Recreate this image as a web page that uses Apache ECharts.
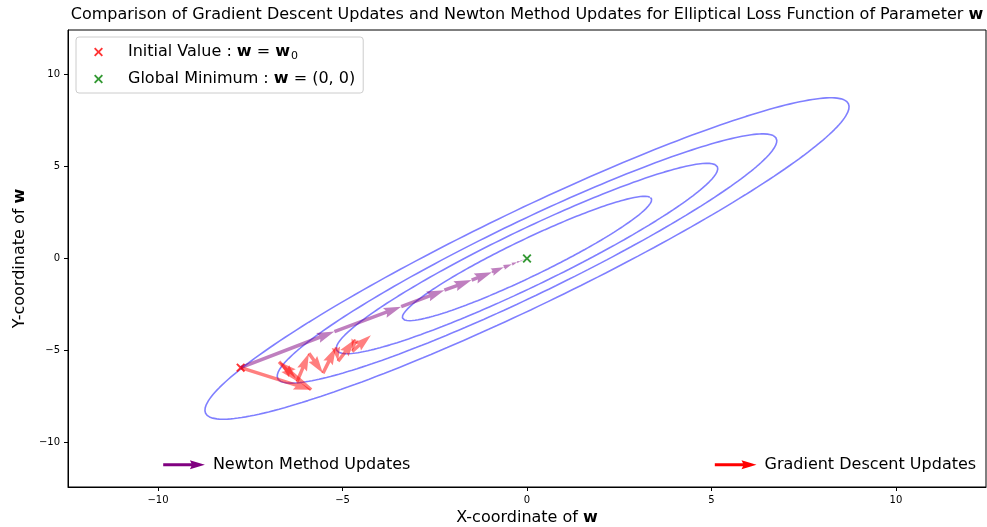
<!DOCTYPE html>
<html>
<head>
<meta charset="utf-8">
<script src="https://cdn.jsdelivr.net/npm/echarts@6/dist/echarts.min.js"></script>
<style>
html, body { margin: 0; padding: 0; background: #fff; }
#chart { width: 987px; height: 527px; }
</style>
</head>
<body>
<div id="chart"></div>
<script>
const xTicks = [-10, -5, 0, 5, 10];
const yTicks = [-10, -5, 0, 5, 10];

const initialValue = [-7.76, -5.93];
const globalMinimum = [0, 0];

// gradient descent iterates
const gdX = [-7.76, -5.85, -6.72, -6.23, -5.91, -5.53, -5.18, -5.12, -4.66, -4.74, -4.23];
const gdY = [-5.93, -7.13, -5.61, -6.67, -5.15, -6.23, -4.82, -5.58, -4.39, -5.04, -4.17];

// newton iterates
const newtonX = [-7.76, -5.22, -3.41, -2.24, -1.50, -0.95, -0.63, -0.41, -0.27, -0.18, -0.12, -0.08, -0.05, -0.03];
const newtonY = [-5.93, -3.97, -2.62, -1.72, -1.17, -0.74, -0.48, -0.31, -0.21, -0.14, -0.09, -0.06, -0.04, -0.02];

// loss contours (semi axes in data units, major axis at 45 deg)
const contourSemiMajor = [4.71, 7.21, 9.44, 12.17];
const contourSemiMinor = [0.80, 1.22, 1.60, 2.07];
const contourAngle = 45;

const keyNames = ['Newton Method Updates', 'Gradient Descent Updates'];
const keyColors = ['#800080', '#ff0000'];
const keyX = [-9.86, 5.09];
const keyY = [-11.2, -11.2];
const keyLength = [1.13, 1.13];

const FONT = 'DejaVu Sans';
const ARROW_W = 3.5;
const xMark = 'path://M0,1.5L1.5,0L5,3.5L8.5,0L10,1.5L6.5,5L10,8.5L8.5,10L5,6.5L1.5,10L0,8.5L3.5,5Z';

function ellipse(a, b) {
    const th = contourAngle * Math.PI / 180;
    const pts = [];
    for (let i = 0; i <= 240; i++) {
        const t = i / 240 * Math.PI * 2;
        const u = a * Math.cos(t), v = b * Math.sin(t);
        pts.push([u * Math.cos(th) - v * Math.sin(th), u * Math.sin(th) + v * Math.cos(th)]);
    }
    return pts;
}

function steps(xs, ys) {
    const out = [];
    for (let i = 0; i < xs.length - 1; i++) out.push([xs[i], ys[i], xs[i + 1], ys[i + 1]]);
    return out;
}

// quiver style arrow polygon, sizes in shaft widths
function arrowPoints(p0, p1, w) {
    const dx = p1[0] - p0[0], dy = p1[1] - p0[1];
    const lpx = Math.hypot(dx, dy);
    if (lpx === 0) return [p0, p0, p0];
    const L = lpx / w;
    const ux = dx / lpx, uy = dy / lpx, vx = -uy, vy = ux;
    const minsh = 5;
    let pts;
    if (L >= minsh) {
        pts = [[0, 0.5], [L - 4.5, 0.5], [L - 5, 1.5], [L, 0], [L - 5, -1.5], [L - 4.5, -0.5], [0, -0.5]];
    } else {
        const s = L / minsh;
        pts = [[0, 0.5], [0.5, 0.5], [0, 1.5], [5, 0], [0, -1.5], [0.5, -0.5], [0, -0.5]]
            .map(p => [p[0] * s, p[1] * s]);
    }
    return pts.map(p => [p0[0] + (p[0] * ux + p[1] * vx) * w, p0[1] + (p[0] * uy + p[1] * vy) * w]);
}

function arrowSeries(name, segs, color, z) {
    return {
        type: 'custom',
        name: name,
        data: segs,
        encode: {x: [0, 2], y: [1, 3]},
        silent: true,
        z: z,
        renderItem: function (params, api) {
            const p0 = api.coord([api.value(0), api.value(1)]);
            const p1 = api.coord([api.value(2), api.value(3)]);
            return {type: 'polygon', shape: {points: arrowPoints(p0, p1, ARROW_W)}, style: {fill: color}};
        }
    };
}

function tickFmt(v) {
    return v < 0 ? '\u2212' + Math.abs(v) : String(v);
}

const bold = {fontWeight: 'bold', fontFamily: FONT, fontSize: 16, color: '#000'};

const legendText = {
    'Initial Value': 'Initial Value : {b|w} = {b|w}{sub|0}',
    'Global Minimum': 'Global Minimum : {b|w} = (0, 0)'
};

const contourSeries = contourSemiMajor.map(function (a, i) {
    return {
        type: 'line',
        data: ellipse(a, contourSemiMinor[i]),
        showSymbol: false,
        symbol: 'none',
        silent: true,
        z: 1,
        lineStyle: {color: 'rgba(0,0,255,0.5)', width: 1.6}
    };
});

const keyData = keyNames.map((n, i) => [keyX[i], keyY[i], keyLength[i], i]);

let chart = echarts.init(document.getElementById('chart'));
const option = {
    animation: false,
    title: {
        text: 'Comparison of Gradient Descent Updates and Newton Method Updates for Elliptical Loss Function of Parameter {b|w}',
        left: 527,
        top: 0,
        textAlign: 'center',
        padding: [6, 0, 0, 0],
        textStyle: {fontFamily: FONT, fontSize: 16, fontWeight: 'normal', color: '#000', lineHeight: 18, rich: {b: bold}}
    },
    legend: {
        left: 76,
        top: 37,
        orient: 'vertical',
        data: [{name: 'Initial Value', icon: xMark}, {name: 'Global Minimum', icon: xMark}],
        itemWidth: 9,
        itemHeight: 9,
        itemGap: 7,
        padding: [5, 8, 4, 18],
        backgroundColor: 'rgba(255,255,255,0.8)',
        borderColor: '#cccccc',
        borderWidth: 1,
        borderRadius: 3,
        selectedMode: false,
        formatter: function (name) { return legendText[name]; },
        textStyle: {
            fontFamily: FONT, fontSize: 16, color: '#000', lineHeight: 20, padding: [0, 0, 0, 20],
            rich: {
                b: Object.assign({lineHeight: 20}, bold),
                sub: {fontFamily: FONT, fontSize: 11, color: '#000', lineHeight: 11, padding: [9, 0, 0, 1]}
            }
        }
    },
    grid: {left: 68, right: 1, top: 30, bottom: 40, show: true, borderColor: '#000', borderWidth: 1, outerBoundsMode: 'none', containLabel: false},
    xAxis: {
        type: 'value',
        min: -12.44,
        max: 12.44,
        name: 'X-coordinate of {b|w}',
        nameLocation: 'middle',
        nameGap: 22,
        nameTextStyle: {fontFamily: FONT, fontSize: 16, color: '#000', rich: {b: bold}},
        axisLine: {onZero: false, lineStyle: {color: '#000', width: 1}},
        axisTick: {customValues: xTicks, length: 4, lineStyle: {color: '#000'}},
        axisLabel: {customValues: xTicks, formatter: tickFmt, fontFamily: FONT, fontSize: 10, color: '#000', margin: 8},
        splitLine: {show: false}
    },
    yAxis: {
        type: 'value',
        min: -12.41,
        max: 12.41,
        name: 'Y-coordinate of {b|w}',
        nameLocation: 'middle',
        nameGap: 28,
        nameTextStyle: {fontFamily: FONT, fontSize: 16, color: '#000', rich: {b: bold}},
        axisLine: {onZero: false, lineStyle: {color: '#000', width: 1}},
        axisTick: {customValues: yTicks, length: 4, lineStyle: {color: '#000'}},
        axisLabel: {customValues: yTicks, formatter: tickFmt, fontFamily: FONT, fontSize: 10, color: '#000', margin: 8},
        splitLine: {show: false}
    },
    series: contourSeries.concat([
        {type: 'scatter', name: 'Initial Value', data: [initialValue], symbol: xMark, symbolSize: 9, itemStyle: {color: '#ff0000'}, z: 2, silent: true},
        {type: 'scatter', name: 'Global Minimum', data: [globalMinimum], symbol: xMark, symbolSize: 9, itemStyle: {color: '#008000'}, z: 2, silent: true},
        arrowSeries('Newton Method Updates', steps(newtonX, newtonY), 'rgba(128,0,128,0.5)', 3),
        arrowSeries('Gradient Descent Updates', steps(gdX, gdY), 'rgba(255,0,0,0.5)', 4),
        {
            type: 'custom',
            data: keyData,
            silent: true,
            z: 5,
            renderItem: function (params, api) {
                const i = api.value(3);
                const p0 = api.coord([api.value(0), api.value(1)]);
                const p1 = api.coord([api.value(0) + api.value(2), api.value(1)]);
                return {
                    type: 'group',
                    children: [
                        {type: 'polygon', shape: {points: arrowPoints(p0, p1, 3)}, style: {fill: keyColors[i]}},
                        {type: 'text', x: p1[0] + 8, y: p1[1], style: {text: keyNames[i], font: '16px "DejaVu Sans"', fill: '#000', align: 'left', verticalAlign: 'middle'}}
                    ]
                };
            }
        }
    ])
};
chart.setOption(option);

window.addEventListener('resize', function () {
    chart.resize();
});
</script>
</body>
</html>
